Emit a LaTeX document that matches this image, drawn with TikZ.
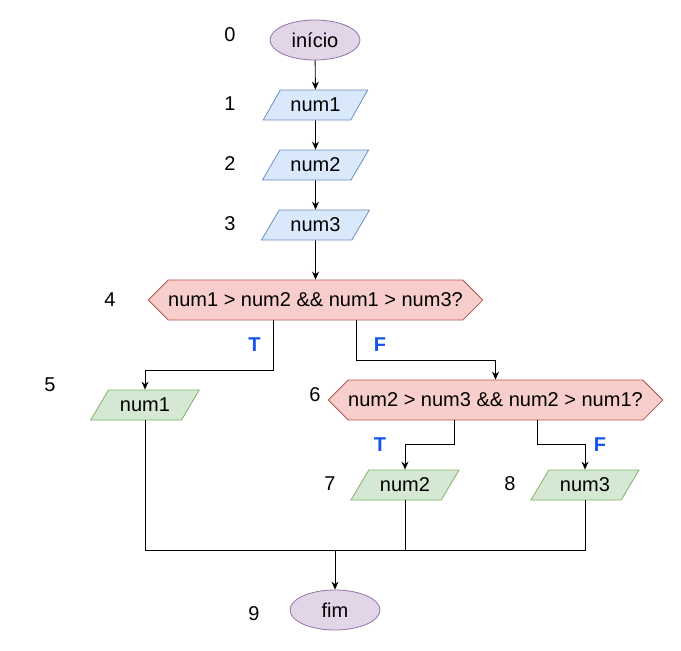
\documentclass[tikz,border=0pt]{standalone}
\usepackage{fontspec}
\setmainfont{Liberation Sans}
\usetikzlibrary{shapes.geometric,shapes.symbols,arrows.meta}
\definecolor{purfill}{HTML}{E1D5E7}\definecolor{purline}{HTML}{9673A6}
\definecolor{bluefill}{HTML}{DAE8FC}\definecolor{blueline}{HTML}{6C8EBF}
\definecolor{redfill}{HTML}{F8CECC}\definecolor{redline}{HTML}{B85450}
\definecolor{greenfill}{HTML}{D5E8D4}\definecolor{greenline}{HTML}{82B366}
\definecolor{tfblue}{RGB}{20,85,240}
\tikzset{
  txt/.style={font=\fontsize{20}{24}\selectfont, text=black},
  term/.style={txt, ellipse, draw=purline, fill=purfill, minimum width=90pt, minimum height=40pt, inner sep=0pt, line width=0.8pt},
  io/.style={txt, trapezium, trapezium left angle=49, trapezium right angle=131, trapezium stretches=true, minimum width=106pt, minimum height=30pt, inner sep=0pt, line width=0.8pt},
  inblue/.style={io, draw=blueline, fill=bluefill},
  ingreen/.style={io, draw=greenline, fill=greenfill, minimum width=109pt},
  dec/.style={txt, signal, signal to=west and east, signal pointer angle=90, draw=redline, fill=redfill, minimum width=329pt, minimum height=40pt, inner sep=0pt, line width=0.8pt},
  num/.style={txt},
  tf/.style={font=\fontsize{20}{24}\selectfont\bfseries, text=tfblue},
  conn/.style={line width=0.9pt, black},
  arr/.style={conn, -{Stealth[length=8pt,width=7pt]}}
}
\begin{document}
\begin{tikzpicture}[x=1pt,y=-1pt]
\useasboundingbox (0,0) rectangle (681,651);
\node[term] (start) at (315,40) {início};
\node[inblue, minimum width=105pt] (o1) at (315.5,105) {num1};
\node[inblue, minimum width=107pt] (o2) at (315.5,165) {num2};
\node[inblue, minimum width=109pt] (o3) at (315.5,225) {num3};
\node[dec] (d1) at (315.5,300) {num1 > num2 \&\& num1 > num3?};
\node[ingreen] (o5) at (145,405) {num1};
\node[dec] (d2) at (495.5,400) {num2 > num3 \&\& num2 > num1?};
\node[ingreen] (o7) at (405,485) {num2};
\node[ingreen] (o8) at (585,485) {num3};
\node[term] (fim) at (335,610) {fim};
\coordinate (j) at (335,550);

\node[num] (l0) at (230,35) {0};
\node[num] (l1) at (230,104) {1};
\node[num] (l2) at (230,164) {2};
\node[num] (l3) at (230,224) {3};
\node[num] (l4) at (110,300) {4};
\node[num] (l5) at (50,385) {5};
\node[num] (l6) at (315,395) {6};
\node[num] (l7) at (330,484) {7};
\node[num] (l8) at (510,484) {8};
\node[num] (l9) at (254,614) {9};

\node[tf] (t1) at (254.5,345) {T};
\node[tf] (f1) at (380,345) {F};
\node[tf] (t2) at (380,445) {T};
\node[tf] (f2) at (600,445) {F};

\draw[arr] (start) -- (o1);
\draw[arr] (o1) -- (o2);
\draw[arr] (o2) -- (o3);
\draw[arr] (o3) -- (d1);
\draw[arr] ([xshift=-42.5pt]d1.south) -- ++(0,50) -| (o5.north);
\draw[arr] ([xshift=40.5pt]d1.south) -- ++(0,40) -| (d2.north);
\draw[arr] ([xshift=-41.5pt]d2.south) -- ++(0,24) -| (o7.north);
\draw[arr] ([xshift=41.5pt]d2.south) -- ++(0,24) -| (o8.north);
\draw[conn] (o5.south) |- (j);
\draw[conn] (o8.south) |- (j);
\draw[conn] (o7.south) -- (o7.south |- j);
\draw[arr] (j) -- (fim);
\end{tikzpicture}
\end{document}
